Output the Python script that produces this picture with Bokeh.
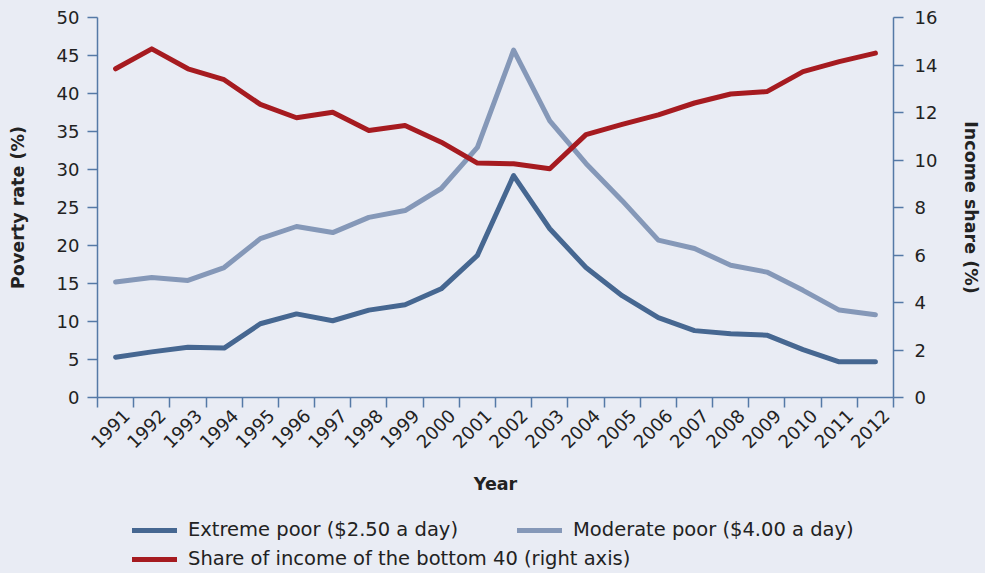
from bokeh.plotting import figure
from bokeh.models import (Range1d, LinearAxis, FixedTicker, Legend, LegendItem,
                          CustomJSTickFormatter)
from bokeh.layouts import column
from bokeh.embed import file_html
from bokeh.resources import INLINE

years = list(range(1991, 2013))
extreme_poor = [5.3, 6.0, 6.6, 6.5, 9.7, 11.0, 10.1, 11.5, 12.2, 14.3, 18.7, 29.2,
                22.2, 17.1, 13.4, 10.5, 8.8, 8.4, 8.2, 6.3, 4.7, 4.7]
moderate_poor = [15.2, 15.8, 15.4, 17.1, 20.9, 22.5, 21.7, 23.7, 24.6, 27.5, 32.9, 45.7,
                 36.4, 30.8, 25.9, 20.7, 19.6, 17.4, 16.5, 14.1, 11.5, 10.9]
income_share_bottom40 = [13.84, 14.68, 13.84, 13.38, 12.34, 11.78, 12.01, 11.24, 11.45, 10.75,
                         9.87, 9.84, 9.63, 11.07, 11.50, 11.90, 12.40, 12.78, 12.88, 13.72,
                         14.14, 14.50]
left_ticks = list(range(0, 51, 5))
right_ticks = list(range(0, 17, 2))
labels = {
    "ext": "Extreme poor ($2.50 a day)",
    "mod": "Moderate poor ($4.00 a day)",
    "red": "Share of income of the bottom 40 (right axis)",
}

BG = "#e9ecf4"
AXIS = "#5579a6"
TXT = "#222222"
C_EXT = "#466791"
C_MOD = "#8598b8"
C_RED = "#a61b20"
FONT = "DejaVu Sans"
LABEL_SHIFT = 0.3   # rotated year labels sit slightly right of the category centre
W = 985
H1 = 505
H2 = 68

p = figure(width=W, height=H1, output_backend="svg", toolbar_location=None,
           x_range=Range1d(years[0] - 0.5, years[-1] + 0.5), y_range=Range1d(0, 50),
           min_border_left=97, min_border_right=92, min_border_top=17, min_border_bottom=108)
p.extra_y_ranges = {"right": Range1d(0, 16)}
p.background_fill_color = BG
p.border_fill_color = BG
p.outline_line_color = None
p.xgrid.visible = False
p.ygrid.visible = False

def style_axis(ax):
    ax.axis_line_color = AXIS
    ax.axis_line_width = 1.5
    ax.major_label_text_font = FONT
    ax.major_label_text_font_size = "18px"
    ax.major_label_text_color = TXT
    ax.axis_label_text_font = FONT
    ax.axis_label_text_font_style = "bold"
    ax.axis_label_text_font_size = "17.5px"
    ax.axis_label_text_color = TXT

# x axis: labels near category centres, tick marks at category boundaries
xa = p.xaxis[0]
xa.ticker = FixedTicker(ticks=[y + LABEL_SHIFT for y in years],
                        minor_ticks=[y - 0.5 for y in years] + [years[-1] + 0.5])
xa.formatter = CustomJSTickFormatter(args=dict(shift=LABEL_SHIFT),
                                     code="return String(Math.round(tick - shift));")
style_axis(xa)
xa.major_tick_line_color = None
xa.major_tick_out = 0
xa.major_tick_in = 0
xa.minor_tick_out = 10
xa.minor_tick_in = 0
xa.minor_tick_line_color = AXIS
xa.minor_tick_line_width = 1.5
xa.major_label_orientation = 0.7853981634
xa.major_label_standoff = 5
xa.axis_label = "Year"
xa.axis_label_standoff = 17

ya = p.yaxis[0]
ya.ticker = FixedTicker(ticks=left_ticks)
style_axis(ya)
ya.major_tick_out = 10
ya.major_tick_in = 0
ya.major_tick_line_color = AXIS
ya.major_tick_line_width = 1.5
ya.minor_tick_line_color = None
ya.major_label_standoff = 8
ya.axis_label = "Poverty rate (%)"
ya.axis_label_standoff = 26

yr = LinearAxis(y_range_name="right", ticker=FixedTicker(ticks=right_ticks))
style_axis(yr)
yr.major_tick_out = 10
yr.major_tick_in = 0
yr.major_tick_line_color = AXIS
yr.major_tick_line_width = 1.5
yr.minor_tick_line_color = None
yr.major_label_standoff = 11
yr.axis_label = "Income share (%)"
yr.axis_label_standoff = 21
p.add_layout(yr, "right")

line_kw = dict(line_width=5, line_join="round", line_cap="round")
p.line(years, moderate_poor, line_color=C_MOD, **line_kw)
p.line(years, extreme_poor, line_color=C_EXT, **line_kw)
p.line(years, income_share_bottom40, line_color=C_RED, y_range_name="right", **line_kw)

# legend strip below the chart (its series are hidden; only the legend shows)
lf = figure(width=W, height=H2, output_backend="svg", toolbar_location=None,
            x_range=Range1d(years[0] - 0.5, years[-1] + 0.5), y_range=Range1d(0, 50),
            x_axis_type=None, y_axis_type=None,
            min_border_left=97, min_border_right=92, min_border_top=0, min_border_bottom=0)
lf.background_fill_color = BG
lf.border_fill_color = BG
lf.outline_line_color = None
lf.xgrid.visible = False
lf.ygrid.visible = False
k_ext = lf.line(years, extreme_poor, line_color=C_EXT, visible=False, **line_kw)
k_mod = lf.line(years, moderate_poor, line_color=C_MOD, visible=False, **line_kw)
k_red = lf.line(years, income_share_bottom40, line_color=C_RED, visible=False, **line_kw)

def make_legend(items, loc):
    lg = Legend(items=items, location=loc, orientation="horizontal")
    lg.label_text_font = FONT
    lg.label_text_font_size = "19.5px"
    lg.label_text_color = TXT
    lg.glyph_width = 45
    lg.glyph_height = 22
    lg.label_height = 22
    lg.label_standoff = 11
    lg.spacing = 59
    lg.padding = 0
    lg.margin = 0
    lg.border_line_color = None
    lg.background_fill_alpha = 0
    lg.inactive_fill_alpha = 0
    return lg

leg1 = make_legend([LegendItem(label=labels["ext"], renderers=[k_ext]),
                    LegendItem(label=labels["mod"], renderers=[k_mod])], (35, 32))
leg2 = make_legend([LegendItem(label=labels["red"], renderers=[k_red])], (35, 3))
lf.add_layout(leg1, "center")
lf.add_layout(leg2, "center")

layout = column(p, lf, spacing=0, styles={"background-color": BG})
open("out.html", "w").write(file_html(layout, INLINE))
